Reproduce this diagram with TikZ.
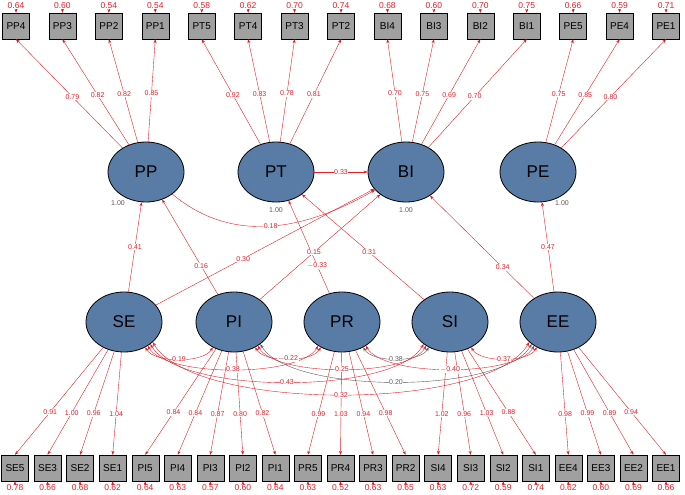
\documentclass[tikz,border=0pt]{standalone}
\usepackage{fontspec}
\setmainfont{Liberation Sans}
\usetikzlibrary{shapes.geometric,arrows.meta}
\definecolor{semred}{RGB}{225,30,40}
\definecolor{semgray}{RGB}{90,90,90}
\definecolor{latfill}{RGB}{88,124,166}
\definecolor{boxfill}{RGB}{160,160,160}
\tikzset{
  lat/.style={ellipse,draw=black,thick,fill=latfill,minimum width=76pt,minimum height=60pt,font=\fontsize{17}{17}\selectfont},
  man/.style={rectangle,draw=black,fill=boxfill,minimum width=27pt,minimum height=26pt,inner sep=0pt,font=\fontsize{10}{10}\selectfont},
  lab/.style={fill=white,inner sep=0.6pt,font=\fontsize{7}{7}\selectfont,text=semred},
  res/.style={inner sep=0pt,font=\fontsize{8.5}{8.5}\selectfont,text=semred},
  path/.style={draw=semred,-{Stealth[length=4pt,width=3pt]}},
  cov/.style={draw=semred,{Stealth[length=4pt,width=3pt]}-{Stealth[length=4pt,width=3pt]}},
}
\begin{document}
\begin{tikzpicture}[x=1pt,y=-1pt]
\useasboundingbox (0,0) rectangle (685,495);
% latent variables
\node[lat] (PP) at (146,172) {PP};
\node[lat] (PT) at (276,172) {PT};
\node[lat] (BI) at (406,172) {BI};
\node[lat] (PE) at (538,172) {PE};
\node[lat] (SE) at (124,322) {SE};
\node[lat] (PI) at (234,322) {PI};
\node[lat] (PR) at (342,322) {PR};
\node[lat] (SI) at (450,322) {SI};
\node[lat] (EE) at (558,322) {EE};
% top indicators: name/latent/loading/residual
\foreach \n/\l/\ld/\r [count=\i from 0] in {PP4/PP/0.79/0.64, PP3/PP/0.82/0.60, PP2/PP/0.82/0.54, PP1/PP/0.85/0.54,
  PT5/PT/0.92/0.58, PT4/PT/0.83/0.62, PT3/PT/0.78/0.70, PT2/PT/0.81/0.74,
  BI4/BI/0.70/0.68, BI3/BI/0.75/0.60, BI2/BI/0.69/0.70, BI1/BI/0.70/0.75,
  PE5/PE/0.75/0.66, PE4/PE/0.85/0.59, PE1/PE/0.80/0.71}{
  \node[man] (\n) at (16+46.43*\i,26) {\n};
  \node[res] (r\n) at (16+46.43*\i,6) {\r};
  \draw[path] (r\n.south) -- (\n.north);
  \draw[path] (\l) -- node[lab,pos=0.47] {\ld} (\n.south);
}
% bottom indicators
\foreach \n/\l/\ld/\r [count=\i from 0] in {SE5/SE/0.91/0.78, SE3/SE/1.00/0.66, SE2/SE/0.96/0.68, SE1/SE/1.04/0.62,
  PI5/PI/0.84/0.64, PI4/PI/0.84/0.63, PI3/PI/0.87/0.57, PI2/PI/0.80/0.60, PI1/PI/0.82/0.64,
  PR5/PR/0.99/0.63, PR4/PR/1.03/0.52, PR3/PR/0.94/0.63, PR2/PR/0.98/0.65,
  SI4/SI/1.02/0.63, SI3/SI/0.96/0.72, SI2/SI/1.03/0.59, SI1/SI/0.88/0.74,
  EE4/EE/0.98/0.62, EE3/EE/0.99/0.60, EE2/EE/0.89/0.69, EE1/EE/0.94/0.66}{
  \node[man] (\n) at (15+32.55*\i,468) {\n};
  \node[res] (r\n) at (15+32.55*\i,488) {\r};
  \draw[path] (r\n.north) -- (\n.south);
  \draw[path] (\l) -- node[lab,pos=0.6] {\ld} (\n.north);
}
% latent variances
\foreach \l/\dx/\dy in {PP/-28/31, PT/0/38, BI/0/38, PE/24/31}{
  \node[font=\fontsize{7}{7}\selectfont,text=semgray] at ([shift={(\dx,\dy)}]\l) {1.00};
}
% regressions
\draw[path] (SE) -- node[lab,pos=0.5] {0.41} (PP);
\draw[path] (PI) -- node[lab,pos=0.3] {0.16} (PP);
\draw[path] (SE) -- node[lab,pos=0.4] {0.30} (BI);
\draw[path] (PR) -- node[lab,pos=0.3] {$-$0.33} (PT);
\draw[path] (PI) -- node[lab,pos=0.45] {0.15} (BI);
\draw[path] (SI) -- node[lab,pos=0.45] {0.31} (PT);
\draw[path] (EE) -- node[lab,pos=0.3] {0.34} (BI);
\draw[path] (EE) -- node[lab,pos=0.5] {0.47} (PE);
\draw[path] (PT) -- node[lab] {0.33} (BI);
\draw[path] (PP) to[out=-40,in=-150] node[lab,pos=0.5] {0.18} (BI);
% covariances
\tikzset{cv/.style={out=-60,in=-120,looseness=#1}}
\draw[cov] (SE.-50) to[cv=0.7] node[lab] {0.19} (PI.-130);
\draw[cov] (SE.-45) to[cv=0.55] node[lab] {0.38} (PR.-135);
\draw[cov] (SE.-40) to[cv=0.55] node[lab] {0.43} (SI.-140);
\draw[cov] (SE.-35) to[cv=0.55] node[lab] {0.32} (EE.-145);
\draw[cov] (PI.-50) to[cv=0.7] node[lab] {$-$0.22} (PR.-130);
\draw[cov] (PI.-45) to[cv=0.55] node[lab] {0.25} (SI.-135);
\draw[cov,draw=semgray] (PI.-40) to[cv=0.55] node[lab,text=semgray] {0.20} (EE.-140);
\draw[cov,draw=semgray] (PR.-50) to[cv=0.7] node[lab,text=semgray] {0.38} (SI.-130);
\draw[cov] (PR.-45) to[cv=0.55] node[lab] {$-$0.40} (EE.-135);
\draw[cov] (SI.-50) to[cv=0.7] node[lab] {0.37} (EE.-130);
\end{tikzpicture}
\end{document}
